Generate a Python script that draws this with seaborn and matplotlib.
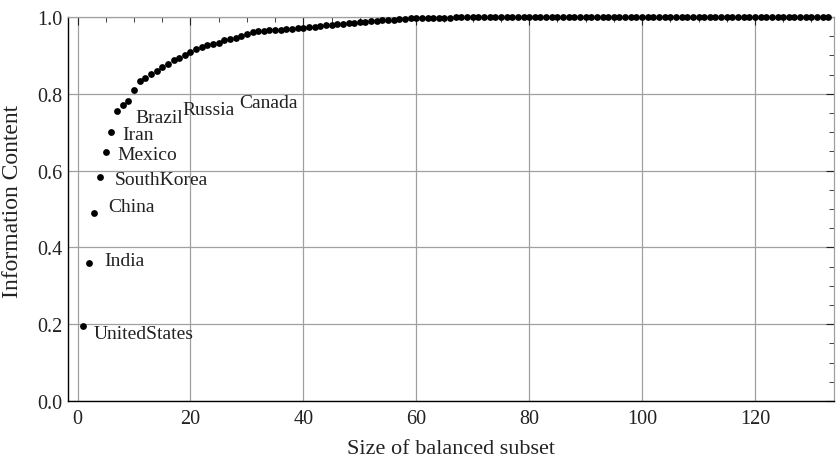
import matplotlib
matplotlib.use("Agg")
import matplotlib.pyplot as plt
import seaborn as sns
import pandas as pd
from matplotlib.ticker import MultipleLocator

# ---- data ----
subset_size = list(range(1, 134))
info_content = [
    0.195, 0.360, 0.490, 0.583, 0.648, 0.700, 0.756, 0.772, 0.780, 0.810,
    0.832, 0.842, 0.851, 0.860, 0.869, 0.878, 0.887, 0.894, 0.901, 0.908,
    0.917, 0.922, 0.926, 0.929, 0.933, 0.939, 0.943, 0.946, 0.951, 0.956,
    0.961, 0.963, 0.964, 0.965, 0.966, 0.967, 0.968, 0.969, 0.970, 0.971,
    0.973, 0.974, 0.976, 0.978, 0.979, 0.981, 0.982, 0.984, 0.985, 0.987,
    0.988, 0.989, 0.990, 0.991, 0.992, 0.993, 0.994, 0.995, 0.996, 0.997,
    0.997, 0.997, 0.998, 0.998, 0.998, 0.998, 0.999, 0.999, 0.999, 0.999,
    1.000, 1.000, 1.000, 1.000, 1.000, 1.000, 1.000, 1.000, 1.000, 1.000,
    1.000, 1.000, 1.000, 1.000, 1.000, 1.000, 1.000, 1.000, 1.000, 1.000,
    1.000, 1.000, 1.000, 1.000, 1.000, 1.000, 1.000, 1.000, 1.000, 1.000,
    1.000, 1.000, 1.000, 1.000, 1.000, 1.000, 1.000, 1.000, 1.000, 1.000,
    1.000, 1.000, 1.000, 1.000, 1.000, 1.000, 1.000, 1.000, 1.000, 1.000,
    1.000, 1.000, 1.000, 1.000, 1.000, 1.000, 1.000, 1.000, 1.000, 1.000,
    1.000, 1.000, 1.000,
]
country_labels = ["UnitedStates", "India", "China", "SouthKorea", "Mexico",
                  "Iran", "Brazil", "Russia", "Canada"]
label_x = [2.9, 4.7, 5.4, 6.6, 7.0, 7.9, 10.3, 18.6, 28.7]
label_y = [0.177, 0.365, 0.507, 0.576, 0.643, 0.695, 0.738, 0.760, 0.776]
x_ticks = [0, 20, 40, 60, 80, 100, 120]
y_ticks = [0.0, 0.2, 0.4, 0.6, 0.8, 1.0]

df = pd.DataFrame({"size": subset_size, "info": info_content})

sns.set_style("white")
plt.rcParams["font.family"] = ["Liberation Serif", "DejaVu Serif"]

fig = plt.figure(figsize=(8.36, 4.6), dpi=100)
ax = fig.add_axes([0.0813, 0.126, 0.9163, 0.835])

sns.scatterplot(data=df, x="size", y="info", ax=ax, color="black",
                s=24, edgecolor="black", linewidth=0, zorder=3, clip_on=False)

for t, lx, ly in zip(country_labels, label_x, label_y):
    ax.text(lx, ly, t, ha="left", va="center", fontsize=14, color="#222222")

ax.set_xlim(-1.7, 134)
ax.set_ylim(0, 1.0)
ax.set_xticks(x_ticks)
ax.set_yticks(y_ticks)
ax.set_yticklabels([f"{v:.1f}" for v in y_ticks])
ax.xaxis.set_minor_locator(MultipleLocator(5))
ax.yaxis.set_minor_locator(MultipleLocator(0.05))
ax.tick_params(which="both", direction="in", top=True, right=True,
               labelsize=14.5, colors="#222222")
ax.tick_params(which="major", length=6, width=0.8)
ax.tick_params(which="minor", length=3.5, width=0.6)
ax.tick_params(axis="x", pad=5.5)
ax.tick_params(axis="y", pad=4)

ax.grid(True, which="major", color="#a0a0a0", linewidth=0.9)
ax.set_axisbelow(True)

for side in ["left", "bottom"]:
    ax.spines[side].set_color("black")
    ax.spines[side].set_linewidth(1.0)
for side in ["top", "right"]:
    ax.spines[side].set_color("#a0a0a0")
    ax.spines[side].set_linewidth(0.9)

ax.set_xlabel("Size of balanced subset", fontsize=16, color="#222222", labelpad=8)
ax.set_ylabel("Information Content", fontsize=17, color="#222222")
ax.yaxis.set_label_coords(-0.059, 0.523)

fig.savefig("out.png", dpi=100)
